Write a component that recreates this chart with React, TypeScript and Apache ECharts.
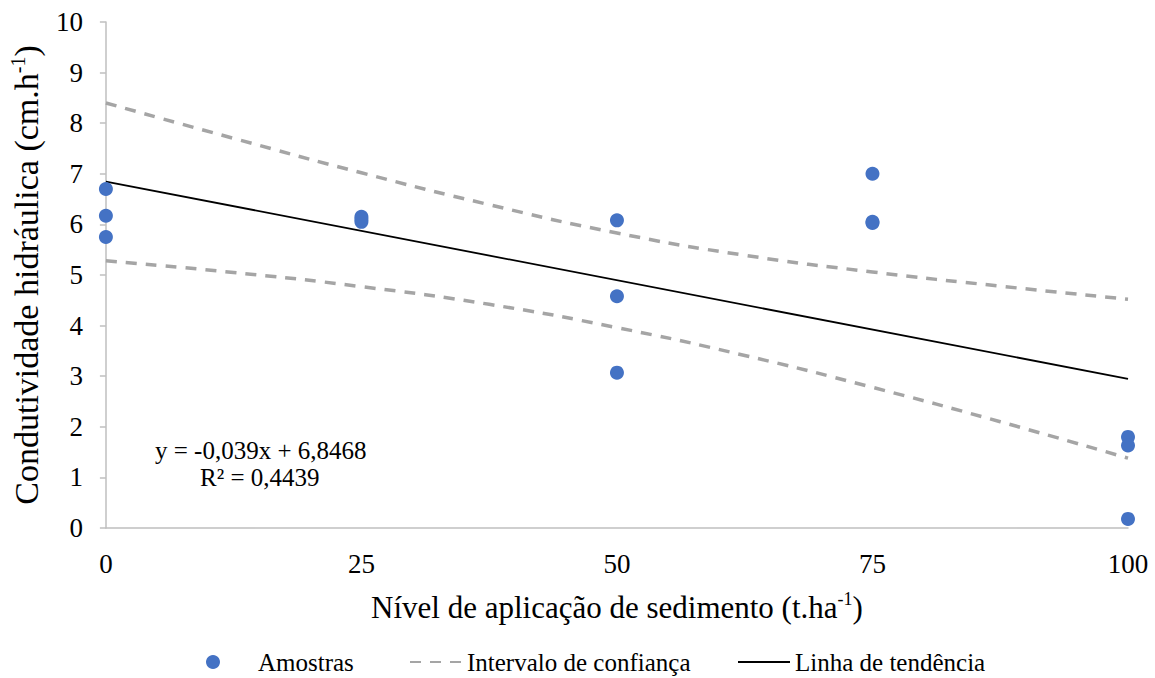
import React, { useEffect, useRef } from "react";
import * as echarts from "echarts";

const xTicks = [0, 25, 50, 75, 100];
const samples: [number, number][] = [
  [0, 6.7], [0, 6.17], [0, 5.75],
  [25, 6.15], [25, 6.05], [25, 6.1],
  [50, 6.08], [50, 4.58], [50, 3.07],
  [75, 7.0], [75, 6.03], [75, 6.05],
  [100, 1.8], [100, 1.63], [100, 0.18],
];
const ciX = [0, 12.5, 25, 37.5, 50, 62.5, 75, 87.5, 100];
const ciUpper = [8.4, 7.7, 7.02, 6.39, 5.83, 5.39, 5.06, 4.78, 4.52];
const ciLower = [5.28, 5.05, 4.77, 4.42, 3.96, 3.41, 2.78, 2.1, 1.38];
const trend: [number, number][] = [[0, 6.8468], [100, 2.9468]];
const equation = "y = -0,039x + 6,8468";
const r2 = "R² = 0,4439";

const FONT = "Times New Roman, Liberation Serif, DejaVu Serif, serif";

export default function App() {
  const ref = useRef<HTMLDivElement>(null);
  useEffect(() => {
    document.body.style.margin = "0";
    const chart = echarts.init(ref.current!, undefined, { renderer: "svg" });
    const dashStyle = { color: "#A5A5A5", width: 3.5, type: [11, 9] as any };
    const lineLegendItem = { opacity: 0, borderWidth: 0 };
    const legendText = { fontFamily: FONT, fontSize: 25, color: "#000", lineHeight: 28 };
    chart.setOption({
      animation: false,
      backgroundColor: "#ffffff",
      textStyle: { fontFamily: FONT },
      grid: { left: 102, right: 27, top: 22, bottom: 150 },
      xAxis: {
        type: "value",
        min: 0,
        max: 100,
        interval: 25,
        name: "{a|Nível de aplicação de sedimento (t.ha}{s|-1}{a|)}",
        nameLocation: "middle",
        nameGap: 62,
        nameTextStyle: {
          fontFamily: FONT,
          rich: {
            a: { fontFamily: FONT, fontSize: 31, color: "#000", lineHeight: 34 },
            s: { fontFamily: FONT, fontSize: 18, color: "#000", verticalAlign: "top", lineHeight: 34, padding: [0, 0, 16, 0] },
          },
        },
        axisLine: { lineStyle: { color: "#BFBFBF", width: 1.5 } },
        axisTick: { show: false },
        splitLine: { show: false },
        axisLabel: {
          color: "#000",
          fontFamily: FONT,
          fontSize: 27,
          margin: 22,
          formatter: (v: number) => (xTicks.includes(v) ? String(v) : ""),
        },
      },
      yAxis: {
        type: "value",
        min: 0,
        max: 10,
        interval: 1,
        name: "{a|Condutividade hidráulica (cm.h}{s|-1}{a|)}",
        nameLocation: "middle",
        nameGap: 61,
        nameTextStyle: {
          fontFamily: FONT,
          rich: {
            a: { fontFamily: FONT, fontSize: 34, color: "#000", lineHeight: 36 },
            s: { fontFamily: FONT, fontSize: 20, color: "#000", verticalAlign: "top", lineHeight: 36, padding: [0, 0, 17, 0] },
          },
        },
        axisLine: { show: true, lineStyle: { color: "#BFBFBF", width: 1.5 } },
        axisTick: { show: true, inside: false, length: 6, lineStyle: { color: "#BFBFBF", width: 1.5 } },
        splitLine: { show: false },
        axisLabel: { color: "#000", fontFamily: FONT, fontSize: 27, margin: 23 },
      },
      legend: [
        {
          data: ["Amostras"],
          left: 206,
          top: 648,
          padding: 0,
          itemWidth: 14,
          itemHeight: 14,
          textStyle: { ...legendText, padding: [0, 0, 0, 33] },
        },
        {
          data: ["Intervalo de confiança"],
          left: 409,
          top: 648,
          padding: 0,
          itemWidth: 52,
          itemHeight: 14,
          itemStyle: lineLegendItem,
          textStyle: legendText,
        },
        {
          data: ["Linha de tendência"],
          left: 737,
          top: 648,
          padding: 0,
          itemWidth: 52,
          itemHeight: 14,
          itemStyle: lineLegendItem,
          textStyle: legendText,
        },
      ],
      graphic: [
        {
          type: "text",
          left: 155,
          top: 438,
          style: { text: equation, fontFamily: FONT, fontSize: 25, fill: "#000" },
        },
        {
          type: "text",
          left: 200,
          top: 465,
          style: { text: r2, fontFamily: FONT, fontSize: 25, fill: "#000" },
        },
      ],
      series: [
        {
          name: "Intervalo de confiança",
          type: "line",
          data: ciX.map((x, i) => [x, ciUpper[i]]),
          smooth: true,
          symbol: "none",
          lineStyle: dashStyle,
          itemStyle: { color: "#A5A5A5" },
          z: 2,
        },
        {
          name: "Intervalo de confiança",
          type: "line",
          data: ciX.map((x, i) => [x, ciLower[i]]),
          smooth: true,
          symbol: "none",
          lineStyle: dashStyle,
          itemStyle: { color: "#A5A5A5" },
          z: 2,
        },
        {
          name: "Linha de tendência",
          type: "line",
          data: trend,
          symbol: "none",
          lineStyle: { color: "#000", width: 1.8 },
          itemStyle: { color: "#000" },
          z: 3,
        },
        {
          name: "Amostras",
          type: "scatter",
          data: samples,
          symbol: "circle",
          symbolSize: 14,
          itemStyle: { color: "#4472C4", opacity: 1 },
          z: 4,
        },
      ],
    });
    return () => chart.dispose();
  }, []);
  return <div ref={ref} style={{ width: 1155, height: 678, position: "absolute", left: 0, top: 0 }} />;
}
